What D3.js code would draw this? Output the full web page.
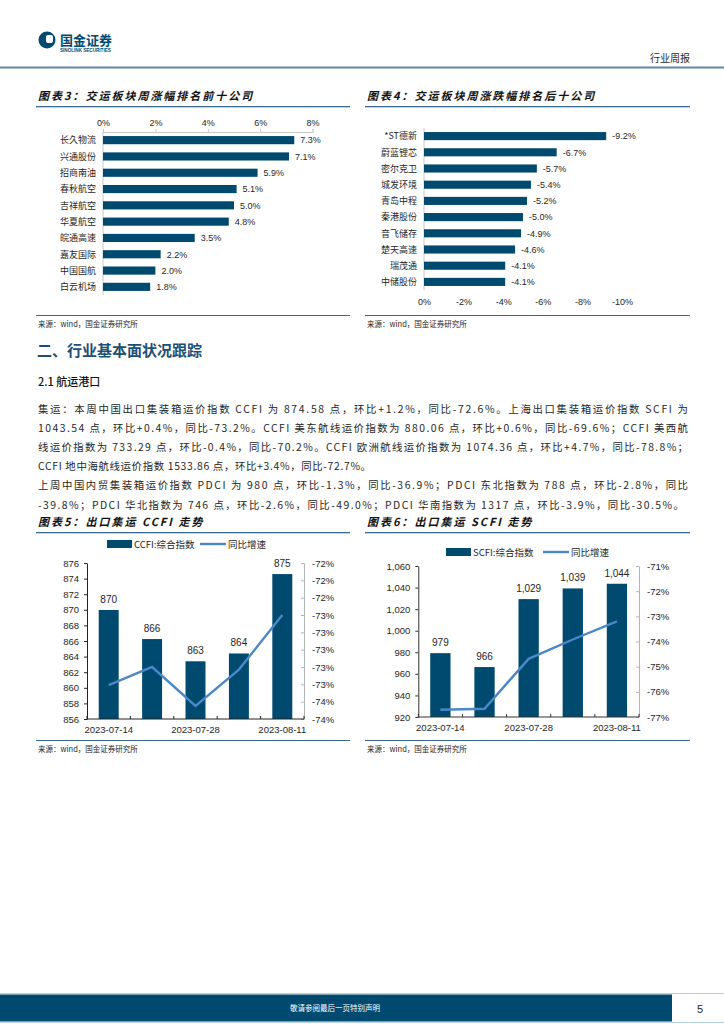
<!DOCTYPE html>
<html>
<head>
<meta charset="utf-8">
<script src="https://cdn.jsdelivr.net/npm/d3@7"></script>
<style>
  html, body { margin: 0; padding: 0; background: #fff; }
  svg { display: block; }
  text { font-family: "Liberation Sans", Arial, sans-serif; }
  .cn { font-family: "Noto Sans CJK SC", sans-serif; }
</style>
</head>
<body>
<svg id="page" width="724" height="1024"></svg>
<script>
//========================== Data ================================

const topNames = ['长久物流', '兴通股份', '招商南油', '春秋航空', '吉祥航空', '华夏航空', '皖通高速', '嘉友国际', '中国国航', '白云机场']
const topVals = [7.3, 7.1, 5.9, 5.1, 5.0, 4.8, 3.5, 2.2, 2.0, 1.8]
const topTicks = [0, 2, 4, 6, 8]

const lowNames = ['*ST德新', '蔚蓝锂芯', '密尔克卫', '城发环境', '青岛中程', '秦港股份', '音飞储存', '楚天高速', '瑞茂通', '中储股份']
const lowVals = [-9.2, -6.7, -5.7, -5.4, -5.2, -5.0, -4.9, -4.6, -4.1, -4.1]
const lowTicks = [0, -2, -4, -6, -8, -10]

const weeks = ['2023-07-14', '2023-07-21', '2023-07-28', '2023-08-04', '2023-08-11']
const weekLabels = ['2023-07-14', '2023-07-28', '2023-08-11']

const ccfiIndex = [869.98, 866.25, 863.4, 864.4, 874.58]
const ccfiYoy = [-73.41, -73.2, -73.65, -73.23, -72.6]
const ccfiLeftTicks = [856, 858, 860, 862, 864, 866, 868, 870, 872, 874, 876]
const ccfiRightTicks = [-72.0, -72.2, -72.4, -72.6, -72.8, -73.0, -73.2, -73.4, -73.6, -73.8]

const scfiIndex = [979.2, 966.3, 1029.3, 1039.2, 1043.54]
const scfiYoy = [-76.71, -76.67, -74.69, -73.92, -73.2]
const scfiLeftTicks = [920, 940, 960, 980, 1000, 1020, 1040, 1060]
const scfiRightTicks = [-71, -72, -73, -74, -75, -76, -77]

const bodyLines = [
  '集运：本周中国出口集装箱运价指数 CCFI 为 874.58 点，环比+1.2%，同比-72.6%。上海出口集装箱运价指数 SCFI 为',
  '1043.54 点，环比+0.4%，同比-73.2%。CCFI 美东航线运价指数为 880.06 点，环比+0.6%，同比-69.6%；CCFI 美西航',
  '线运价指数为 733.29 点，环比-0.4%，同比-70.2%。CCFI 欧洲航线运价指数为 1074.36 点，环比+4.7%，同比-78.8%；',
  'CCFI 地中海航线运价指数 1533.86 点，环比+3.4%，同比-72.7%。',
  '上周中国内贸集装箱运价指数 PDCI 为 980 点，环比-1.3%，同比-36.9%；PDCI 东北指数为 788 点，环比-2.8%，同比',
  '-39.8%；PDCI 华北指数为 746 点，环比-2.6%，同比-49.0%；PDCI 华南指数为 1317 点，环比-3.9%，同比-30.5%。'
]
const bodyWidths = [650, 650, 650, 333, 650, 646]

//========================== Styles ================================

const navy = '#004a70'
const lineBlue = '#4a88c8'
const ruleBlue = '#3a6a8c'
const txt = '#262626'

const svg = d3.select('#page')

//========================== Header / footer ================================

let header = svg.append('g')
header.append('circle').attr('cx', 47).attr('cy', 40).attr('r', 8.5).attr('fill', navy)
header.append('rect').attr('x', 46).attr('y', 35).attr('width', 7).attr('height', 8)
  .attr('rx', 2).attr('fill', '#fff')
header.append('text').attr('class', 'cn').attr('x', 60).attr('y', 45)
  .attr('font-size', 13).attr('font-weight', 700).attr('fill', navy).text('国金证券')
header.append('text').attr('x', 60).attr('y', 51.5)
  .attr('font-size', 4.6).attr('font-weight', 700).attr('fill', navy).text('SINOLINK SECURITIES')
header.append('text').attr('class', 'cn').attr('x', 690).attr('y', 62).attr('text-anchor', 'end')
  .attr('font-size', 10).attr('fill', txt).text('行业周报')
header.append('rect').attr('x', 0).attr('y', 66.5).attr('width', 724).attr('height', 2).attr('fill', '#5d88a6')

let footer = svg.append('g')
footer.append('rect').attr('x', 0).attr('y', 993).attr('width', 724).attr('height', 1).attr('fill', '#b8cde0')
footer.append('rect').attr('x', 0).attr('y', 1022).attr('width', 724).attr('height', 1).attr('fill', '#b8cde0')
footer.append('rect').attr('x', 0).attr('y', 994.5).attr('width', 672).attr('height', 27).attr('fill', navy)
footer.append('text').attr('class', 'cn').attr('x', 335).attr('y', 1011).attr('text-anchor', 'middle')
  .attr('font-size', 7.5).attr('fill', '#fff').text('敬请参阅最后一页特别声明')
footer.append('text').attr('x', 700).attr('y', 1013).attr('text-anchor', 'middle')
  .attr('font-size', 11).attr('fill', txt).text('5')

//========================== Titles / sources ================================

// CJK font has no italic face, so slant it by hand
let chartTitle = (x0, x1, y, label) => {
  svg.append('text').attr('class', 'cn')
    .attr('transform', `translate(${x0 + 2},${y}) skewX(-14)`)
    .attr('font-size', 11).attr('font-weight', 700).attr('letter-spacing', 2)
    .attr('fill', '#111').text(label)
  svg.append('rect').attr('x', x0).attr('y', y + 6).attr('width', x1 - x0).attr('height', 1.3).attr('fill', ruleBlue)
}

let chartSource = (x0, x1, y) => {
  svg.append('rect').attr('x', x0).attr('y', y).attr('width', x1 - x0).attr('height', 1).attr('fill', ruleBlue)
  svg.append('text').attr('class', 'cn').attr('x', x0 + 2).attr('y', y + 12)
    .attr('font-size', 7.5).attr('fill', txt).text('来源：wind，国金证券研究所')
}

chartTitle(36, 350, 100, '图表3：交运板块周涨幅排名前十公司')
chartTitle(365, 690, 100, '图表4：交运板块周涨跌幅排名后十公司')
chartSource(36, 350, 315)
chartSource(365, 690, 315)

chartTitle(36, 350, 526, '图表5：出口集运 CCFI 走势')
chartTitle(365, 690, 526, '图表6：出口集运 SCFI 走势')
chartSource(36, 350, 740)
chartSource(365, 690, 740)

//========================== Text section ================================

svg.append('text').attr('class', 'cn').attr('x', 37).attr('y', 356)
  .attr('font-size', 15).attr('font-weight', 700).attr('fill', '#1b4f74').text('二、行业基本面状况跟踪')
svg.append('text').attr('class', 'cn').attr('x', 38).attr('y', 386)
  .attr('font-size', 11).attr('font-weight', 500).attr('fill', '#111').text('2.1 航运港口')

bodyLines.forEach((line, i) => {
  svg.append('text').attr('class', 'cn').attr('x', 38).attr('y', 413 + i * 19.1)
    .attr('font-size', 10.4).attr('fill', txt).text(line)
    .attr('textLength', bodyWidths[i]).attr('lengthAdjust', 'spacing')
})

//========================== Horizontal bars ================================

let styleAxis = (g, color) => {
  g.selectAll('path').attr('stroke', color)
  g.selectAll('line').attr('stroke', color)
  g.selectAll('text').attr('fill', txt).attr('font-size', 9)
    .attr('font-family', '"Liberation Sans", Arial, sans-serif')
}

// top ten
let xTop = d3.scaleLinear().domain([0, 8]).range([103, 312.6])
let yTop = d3.scaleBand().domain(topNames).range([132, 295]).paddingInner(0.5).paddingOuter(0.25)
let gTop = svg.append('g')

gTop.append('g').attr('transform', 'translate(0,132)')
  .call(d3.axisTop(xTop).tickValues(topTicks).tickFormat(d => d + '%').tickSize(3).tickPadding(3))
  .call(g => styleAxis(g, '#c8c8c8'))
gTop.append('line').attr('x1', 103).attr('x2', 103).attr('y1', 132).attr('y2', 295).attr('stroke', '#c8c8c8')

gTop.selectAll('rect.bar').data(topVals).join('rect').attr('class', 'bar')
  .attr('x', xTop(0)).attr('y', (d, i) => yTop(topNames[i]))
  .attr('width', d => xTop(d) - xTop(0)).attr('height', yTop.bandwidth()).attr('fill', navy)
gTop.selectAll('text.val').data(topVals).join('text').attr('class', 'val')
  .attr('x', d => xTop(d) + 6).attr('y', (d, i) => yTop(topNames[i]) + yTop.bandwidth() / 2 + 3.3)
  .attr('font-size', 9).attr('fill', txt).text(d => d.toFixed(1) + '%')
gTop.selectAll('text.cat').data(topNames).join('text').attr('class', 'cat cn')
  .attr('x', 96).attr('y', d => yTop(d) + yTop.bandwidth() / 2 + 3.3).attr('text-anchor', 'end')
  .attr('font-size', 9).attr('fill', txt).text(d => d)

// bottom ten
let xLow = d3.scaleLinear().domain([0, -10]).range([424, 622])
let yLow = d3.scaleBand().domain(lowNames).range([128, 290]).paddingInner(0.5).paddingOuter(0.25)
let gLow = svg.append('g')

gLow.append('g').attr('transform', 'translate(0,290)')
  .call(d3.axisBottom(xLow).tickValues(lowTicks).tickFormat(d => d + '%').tickSize(0).tickPadding(9))
  .call(g => styleAxis(g, '#c8c8c8'))
  .call(g => g.select('.domain').remove())
gLow.append('line').attr('x1', 424).attr('x2', 424).attr('y1', 128).attr('y2', 290).attr('stroke', '#c8c8c8')

gLow.selectAll('rect.bar').data(lowVals).join('rect').attr('class', 'bar')
  .attr('x', xLow(0)).attr('y', (d, i) => yLow(lowNames[i]))
  .attr('width', d => xLow(d) - xLow(0)).attr('height', yLow.bandwidth()).attr('fill', navy)
gLow.selectAll('text.val').data(lowVals).join('text').attr('class', 'val')
  .attr('x', d => xLow(d) + 6).attr('y', (d, i) => yLow(lowNames[i]) + yLow.bandwidth() / 2 + 3.3)
  .attr('font-size', 9).attr('fill', txt).text(d => d.toFixed(1) + '%')
gLow.selectAll('text.cat').data(lowNames).join('text').attr('class', 'cat cn')
  .attr('x', 417).attr('y', d => yLow(d) + yLow.bandwidth() / 2 + 3.3).attr('text-anchor', 'end')
  .attr('font-size', 9).attr('fill', txt).text(d => d)

//========================== Combo charts ================================

let comboChart = (o) => {
  let g = svg.append('g')
  let x = d3.scaleBand().domain(weeks).range([o.x0, o.x1]).paddingInner(0.54).paddingOuter(0.27)
  let yL = d3.scaleLinear().domain(o.leftDomain).range([o.y1, o.y0])
  let yR = d3.scaleLinear().domain(o.rightDomain).range([o.y1, o.y0])

  g.selectAll('rect.bar').data(o.bars).join('rect').attr('class', 'bar')
    .attr('x', (d, i) => x(weeks[i])).attr('y', d => yL(d))
    .attr('width', x.bandwidth()).attr('height', d => o.y1 - yL(d)).attr('fill', navy)
  g.selectAll('text.val').data(o.bars).join('text').attr('class', 'val')
    .attr('x', (d, i) => x(weeks[i]) + x.bandwidth() / 2).attr('y', d => yL(d) - 7)
    .attr('text-anchor', 'middle').attr('font-size', 10).attr('fill', txt)
    .text(d => d3.format(',')(Math.round(d)))

  let line = d3.line().x((d, i) => x(weeks[i]) + x.bandwidth() / 2).y(d => yR(d))
  g.append('path').datum(o.yoy).attr('d', line).attr('fill', 'none')
    .attr('stroke', lineBlue).attr('stroke-width', 2.4)

  g.append('g').attr('transform', `translate(${o.x0},0)`)
    .call(d3.axisLeft(yL).tickValues(o.leftTicks).tickFormat(o.leftFmt).tickSize(3).tickPadding(5).tickSizeOuter(0))
    .call(a => styleAxis(a, o.leftColor))
    .call(a => a.selectAll('text').attr('font-size', 9.5))
  g.append('g').attr('transform', `translate(${o.x1},0)`)
    .call(d3.axisRight(yR).tickValues(o.rightTicks).tickFormat(d => Math.round(d) + '%').tickSize(-3).tickPadding(8).tickSizeOuter(0))
    .call(a => styleAxis(a, '#b5b5b5'))
    .call(a => a.selectAll('text').attr('font-size', 9.5))

  // x axis: boundary ticks pointing in, only some date labels
  let step = x.step()
  let bounds = d3.range(weeks.length + 1).map(i => o.x0 + i * step)
  g.append('line').attr('x1', o.x0).attr('x2', o.x1).attr('y1', o.y1).attr('y2', o.y1).attr('stroke', o.leftColor)
  g.selectAll('line.xt').data(bounds).join('line').attr('class', 'xt')
    .attr('x1', d => d).attr('x2', d => d).attr('y1', o.y1).attr('y2', o.y1 - 3).attr('stroke', o.leftColor)
  g.selectAll('text.xl').data(weekLabels).join('text').attr('class', 'xl')
    .attr('x', d => x(d) + x.bandwidth() / 2).attr('y', o.y1 + 14)
    .attr('text-anchor', 'middle').attr('font-size', 9.5).attr('fill', txt).text(d => d)

  // legend
  let lg = g.append('g').attr('transform', `translate(${o.legendX},${o.legendY})`)
  lg.append('rect').attr('x', 0).attr('y', -4).attr('width', 25).attr('height', 8).attr('fill', navy)
  lg.append('text').attr('class', 'cn').attr('x', 27).attr('y', 3.5).attr('font-size', 9.5).attr('fill', txt).text(o.barName)
  lg.append('line').attr('x1', o.lineLegendX).attr('x2', o.lineLegendX + 26).attr('y1', 0).attr('y2', 0)
    .attr('stroke', lineBlue).attr('stroke-width', 2.4)
  lg.append('text').attr('class', 'cn').attr('x', o.lineLegendX + 28).attr('y', 3.5).attr('font-size', 9.5).attr('fill', txt).text('同比增速')
}

comboChart({
  x0: 87, x1: 304, y0: 563, y1: 719,
  bars: ccfiIndex, yoy: ccfiYoy,
  leftDomain: [856, 876], rightDomain: [-73.8, -72.0],
  leftTicks: ccfiLeftTicks, rightTicks: ccfiRightTicks,
  leftFmt: d => d, leftColor: '#222',
  legendX: 107, legendY: 544, barName: 'CCFI:综合指数', lineLegendX: 93
})

comboChart({
  x0: 418.3, x1: 639, y0: 566, y1: 717,
  bars: scfiIndex, yoy: scfiYoy,
  leftDomain: [920, 1060], rightDomain: [-77, -71],
  leftTicks: scfiLeftTicks, rightTicks: scfiRightTicks,
  leftFmt: d3.format(','), leftColor: '#333',
  legendX: 446, legendY: 552, barName: 'SCFI:综合指数', lineLegendX: 97
})
</script>
</body>
</html>
